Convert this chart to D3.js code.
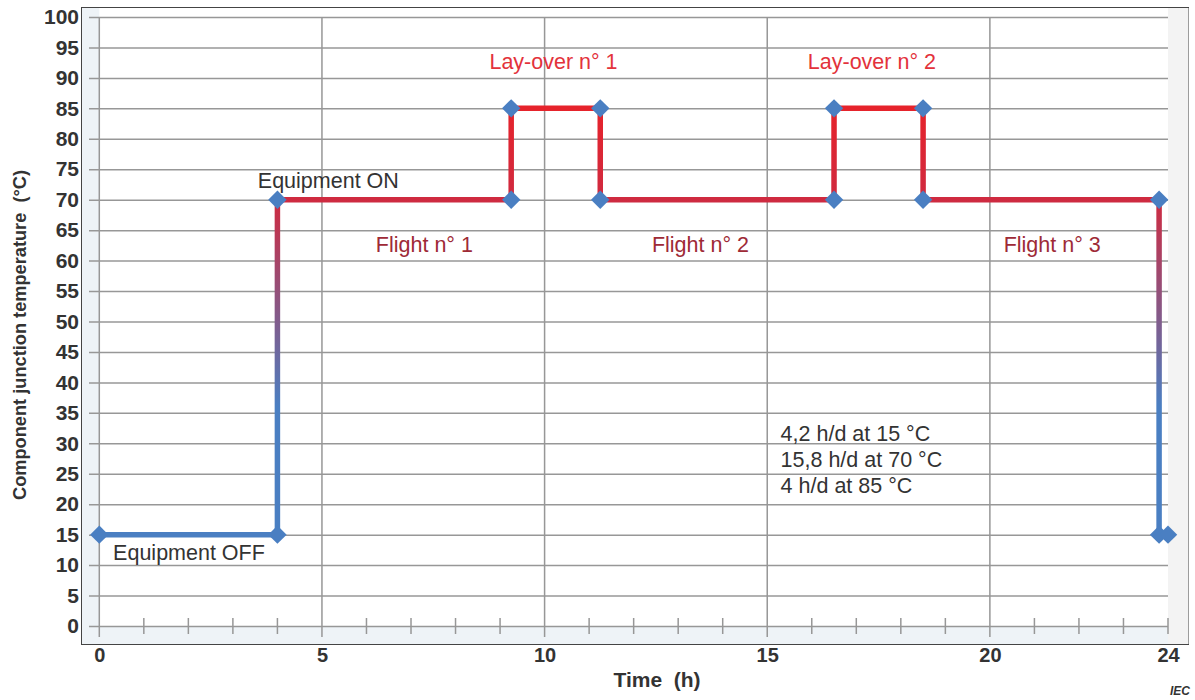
<!DOCTYPE html>
<html>
<head>
<meta charset="utf-8">
<script src="https://cdn.jsdelivr.net/npm/d3@7"></script>
<style>
	body { margin: 0; background: #fff; }
	svg { display: block; }
	text { font-family: "Liberation Sans", Arial, sans-serif; }
</style>
</head>
<body>
<div id="chart"></div>
<script>
// temperature profile over one day
var timeH = [0, 4, 4, 9.25, 9.25, 11.25, 11.25, 16.5, 16.5, 18.5, 18.5, 23.8, 23.8, 24];
var tempC = [15, 15, 70, 70, 85, 85, 70, 70, 85, 85, 70, 70, 15, 15];

var xTickLabels = [0, 5, 10, 15, 20, 24];
var xGridValues = [0, 5, 10, 15, 20];
var yTickValues = d3.range(0, 101, 5);

var phaseNames = ["Equipment OFF", "Equipment ON", "Flight n° 1", "Flight n° 2", "Flight n° 3", "Lay-over n° 1", "Lay-over n° 2"];
var summaryLines = ["4,2 h/d at 15 °C", "15,8 h/d at 70 °C", "4 h/d at 85 °C"];

var W = 1195, H = 700;
var svg = d3.select("#chart").append("svg").attr("width", W).attr("height", H);

var x = d3.scaleLinear().domain([0, 24]).range([99.3, 1168]);
var y = d3.scaleLinear().domain([0, 100]).range([626, 17]);

// frame + backgrounds
svg.append("rect").attr("x", 81.5).attr("y", 7.5).attr("width", 1107).attr("height", 637)
	.attr("fill", "#eef3f7").attr("stroke", "#444").attr("stroke-width", 1);
svg.append("rect").attr("x", 1168).attr("y", 8).attr("width", 20.5).attr("height", 636).attr("fill", "#f3f3f3");
svg.append("rect").attr("x", x(0)).attr("y", 8).attr("width", x(24) - x(0)).attr("height", y(0) - 8).attr("fill", "#fff");

// horizontal grid + y labels
var yAxis = d3.axisLeft(y).tickValues(yTickValues).tickSizeInner(-(1168 - 89)).tickSizeOuter(0).tickPadding(10);
var yg = svg.append("g").attr("transform", "translate(89,0)").call(yAxis);
yg.select(".domain").remove();
yg.selectAll(".tick line").attr("stroke", "#979797").attr("stroke-width", 1.5);
yg.selectAll(".tick text").attr("font-size", 21).attr("font-weight", "bold").attr("fill", "#333")
	.attr("font-family", "'Liberation Sans', Arial, sans-serif");

// vertical grid
svg.append("g").selectAll("line").data(xGridValues).join("line")
	.attr("x1", function(d) { return x(d); }).attr("x2", function(d) { return x(d); })
	.attr("y1", y(100)).attr("y2", 637)
	.attr("stroke", "#979797").attr("stroke-width", 1.5);

// minor hour ticks on the 0 line
svg.append("g").selectAll("line").data(d3.range(1, 25).filter(function(d) { return d % 5 !== 0; })).join("line")
	.attr("x1", function(d) { return x(d); }).attr("x2", function(d) { return x(d); })
	.attr("y1", 618).attr("y2", 634)
	.attr("stroke", "#979797").attr("stroke-width", 1.5);

// x labels
var xAxis = d3.axisBottom(x).tickValues(xTickLabels).tickSize(0).tickPadding(22);
var xg = svg.append("g").attr("transform", "translate(0," + y(0) + ")").call(xAxis);
xg.select(".domain").remove();
xg.selectAll(".tick text").attr("font-size", 20).attr("font-weight", "bold").attr("fill", "#333")
	.attr("font-family", "'Liberation Sans', Arial, sans-serif");

// axis titles
svg.append("text").attr("x", 657).attr("y", 687).attr("text-anchor", "middle")
	.attr("font-size", 21).attr("font-weight", "bold").attr("fill", "#333")
	.attr("xml:space", "preserve").text("Time  (h)");
svg.append("text").attr("transform", "translate(26,335) rotate(-90)").attr("text-anchor", "middle")
	.attr("font-size", 19).attr("font-weight", "bold").attr("fill", "#333")
	.attr("textLength", 330).attr("lengthAdjust", "spacingAndGlyphs")
	.attr("xml:space", "preserve").text("Component junction temperature  (°C)");
svg.append("text").attr("x", 1190).attr("y", 695).attr("text-anchor", "end")
	.attr("font-size", 12).attr("font-weight", "bold").attr("font-style", "italic").attr("fill", "#333")
	.text("IEC");

// line colour goes from blue (cold) to red (hot)
var defs = svg.append("defs");
var grad = defs.append("linearGradient").attr("id", "tempGrad")
	.attr("gradientUnits", "userSpaceOnUse")
	.attr("x1", 0).attr("x2", 0).attr("y1", y(15)).attr("y2", y(85));
grad.append("stop").attr("offset", 0).attr("stop-color", "#4a7fc2");
grad.append("stop").attr("offset", 0.3).attr("stop-color", "#4a7fc2");
grad.append("stop").attr("offset", 0.786).attr("stop-color", "#cf2a40");
grad.append("stop").attr("offset", 1).attr("stop-color", "#e6232b");

var pts = timeH.map(function(t, i) { return [t, tempC[i]]; });
var line = d3.line().x(function(d) { return x(d[0]); }).y(function(d) { return y(d[1]); });
svg.append("path").attr("d", line(pts)).attr("fill", "none")
	.attr("stroke", "url(#tempGrad)").attr("stroke-width", 5.5).attr("stroke-linejoin", "miter");

// diamonds
svg.append("g").selectAll("path").data(pts).join("path")
	.attr("d", d3.symbol(d3.symbolSquare, 170)())
	.attr("transform", function(d) { return "translate(" + x(d[0]) + "," + y(d[1]) + ") rotate(45)"; })
	.attr("fill", "#4a7fc2");

// phase annotations (data coords)
var phasePos = [
	{ t: 0.31, v: 12, color: "#333", anchor: "start" },
	{ t: 3.56, v: 73.2, color: "#333", anchor: "start" },
	{ t: 7.3, v: 62.6, color: "#9e2a36", anchor: "middle" },
	{ t: 13.5, v: 62.6, color: "#9e2a36", anchor: "middle" },
	{ t: 21.4, v: 62.6, color: "#9e2a36", anchor: "middle" },
	{ t: 10.2, v: 92.7, color: "#e3323b", anchor: "middle" },
	{ t: 17.35, v: 92.7, color: "#e3323b", anchor: "middle" }
];
svg.append("g").selectAll("text").data(phaseNames).join("text")
	.attr("x", function(d, i) { return x(phasePos[i].t); })
	.attr("y", function(d, i) { return y(phasePos[i].v); })
	.attr("dy", "0.35em")
	.attr("text-anchor", function(d, i) { return phasePos[i].anchor; })
	.attr("fill", function(d, i) { return phasePos[i].color; })
	.attr("font-size", 21.5)
	.text(function(d) { return d; });

svg.append("g").selectAll("text").data(summaryLines).join("text")
	.attr("x", x(15.3))
	.attr("y", function(d, i) { return 433 + i * 26; })
	.attr("dy", "0.35em")
	.attr("fill", "#333")
	.attr("font-size", 21.5)
	.text(function(d) { return d; });
</script>
</body>
</html>
